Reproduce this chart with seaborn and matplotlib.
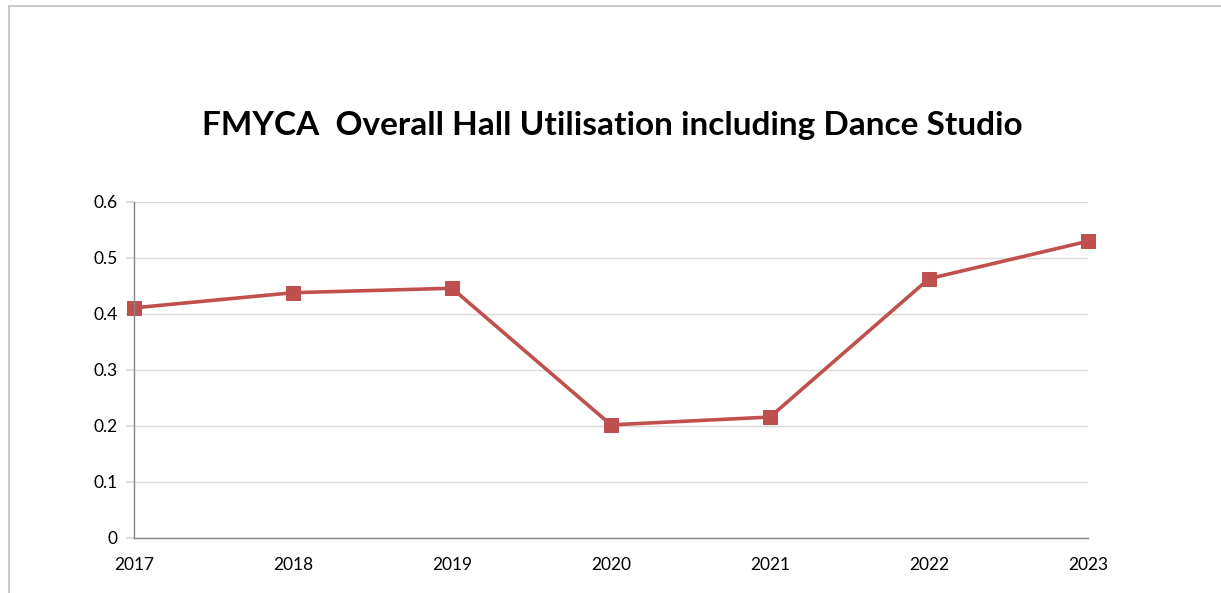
import matplotlib
matplotlib.use("Agg")
import matplotlib.pyplot as plt
import seaborn as sns
import pandas as pd
from matplotlib.lines import Line2D

years = [2017, 2018, 2019, 2020, 2021, 2022, 2023]
utilisation = [0.411, 0.438, 0.446, 0.202, 0.216, 0.463, 0.530]
yticks = [0, 0.1, 0.2, 0.3, 0.4, 0.5, 0.6]
ytick_labels = ["0", "0.1", "0.2", "0.3", "0.4", "0.5", "0.6"]
title = "FMYCA  Overall Hall Utilisation including Dance Studio"

sns.set_theme(style="white")
plt.rcParams['font.family'] = ['Lato', 'DejaVu Sans']

df = pd.DataFrame({"year": years, "value": utilisation})

fig = plt.figure(figsize=(12.21, 5.93), dpi=100)
ax = fig.add_axes([134/1221, 1-538/593, (1088-134)/1221, (538-202)/593])

sns.lineplot(data=df, x="year", y="value", ax=ax, color="#C0504D", linewidth=2.6,
             marker="s", markersize=9.5, markeredgecolor="#C0504D", markerfacecolor="#C0504D",
             clip_on=False)

ax.set_xlim(years[0], years[-1])
ax.set_ylim(0, 0.6)
ax.set_xticks(years)
ax.set_xticklabels([str(y) for y in years], fontsize=12.5, color="black")
ax.set_yticks(yticks)
ax.set_yticklabels(ytick_labels, fontsize=12.5, color="black")
ax.set_xlabel("")
ax.set_ylabel("")
ax.grid(axis="y", color="#d9d9d9", linewidth=1)
ax.set_axisbelow(True)
for s in ["top", "right"]:
    ax.spines[s].set_visible(False)
for s in ["left", "bottom"]:
    ax.spines[s].set_color("#868686")
    ax.spines[s].set_linewidth(1)
ax.tick_params(axis="y", which="both", left=True, length=6, color="#d9d9d9", pad=6)
ax.tick_params(axis="x", which="both", bottom=False, pad=8)

fig.text(612/1221, 1-125/593, title, ha="center", va="center", fontsize=24, fontweight="bold", color="black")

# figure border (left and top)
fig.add_artist(Line2D([8.5/1221, 8.5/1221], [0, 1-5.5/593], transform=fig.transFigure, color="#bfbfbf", linewidth=1.2))
fig.add_artist(Line2D([8.5/1221, 1], [1-5.5/593, 1-5.5/593], transform=fig.transFigure, color="#bfbfbf", linewidth=1.2))

fig.savefig("out.png", dpi=100)
